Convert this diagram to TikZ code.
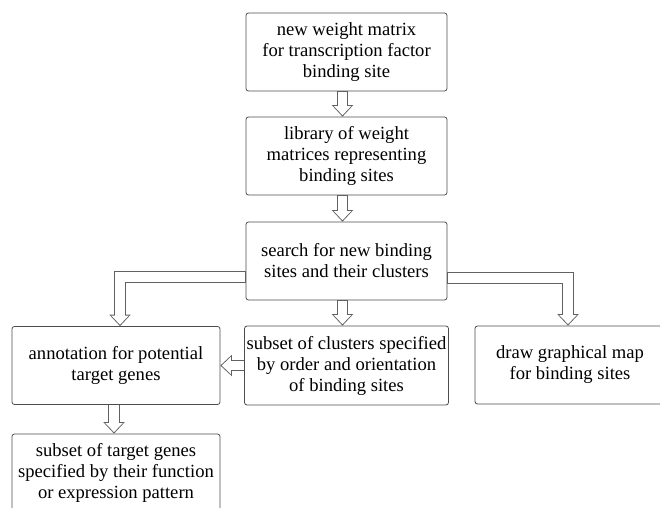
\documentclass[tikz,border=0pt]{standalone}
\usepackage{fontspec}
\setmainfont{Liberation Serif}
\usepackage{tikz}
\usetikzlibrary{positioning, arrows.meta}
\usepackage{xcolor}

\begin{document}
\begin{tikzpicture}[x=1pt, y=1pt,
    box/.style={draw=black!70, line width=0.8pt, rounded corners=2.5pt, align=center,
        inner sep=2pt, font=\fontsize{18.6}{21}\selectfont},
    fatarrow/.style={draw=black!62, line width=11.6pt,
        -{Triangle[length=11.5pt, width=21.5pt, line width=0pt]},
        postaction={draw=white, line width=9.6pt, shorten <=0.5pt, shorten >=1.45pt,
            -{Triangle[length=9pt, width=17.2pt, line width=0pt]}}}]
        \useasboundingbox (0,0) rectangle (660,507);

        % Main column
        \node[box, minimum width=201pt, minimum height=78pt] (wm)   at (346.5,455) {new weight matrix\\for transcription factor\\binding site};
        \node[box, minimum width=201pt, minimum height=78pt] (lib)  at (346.5,351) {library of weight\\matrices representing\\binding sites};
        \node[box, minimum width=201pt, minimum height=78pt] (srch) at (346.5,246) {search for new binding\\sites and their clusters};

        % Second row
        \node[box, minimum width=208pt, minimum height=78pt] (ann) at (116,141.5)   {annotation for potential\\target genes};
        \node[box, minimum width=201pt, minimum height=79pt] (sub) at (346.5,141.5) {subset of clusters specified\\by order and orientation\\of binding sites};
        \node[box, minimum width=190pt, minimum height=78pt] (map) at (570,142)     {draw graphical map\\for binding sites};

        % Bottom
        \node[box, minimum width=208pt, minimum height=78pt] (tg) at (116,34) {subset of target genes\\specified by their function\\or expression pattern};

        % Arrows
        \draw[fatarrow] ([xshift=-4pt]wm.south)  -- ([xshift=-4pt]lib.north);
        \draw[fatarrow] ([xshift=-4pt]lib.south) -- ([xshift=-4pt]srch.north);
        \draw[fatarrow] ([xshift=-4pt]srch.south) -- ([xshift=-4pt]sub.north);
        \draw[fatarrow] ([yshift=-16pt]srch.west) -| ([xshift=4pt]ann.north);
        \draw[fatarrow] ([yshift=-17pt]srch.east) -| ([xshift=-2pt]map.north);
        \draw[fatarrow] (sub.west) -- (ann.east);
        \draw[fatarrow] ([xshift=-2pt]ann.south) -- ([xshift=-2pt]tg.north);
    \end{tikzpicture}
\end{document}
